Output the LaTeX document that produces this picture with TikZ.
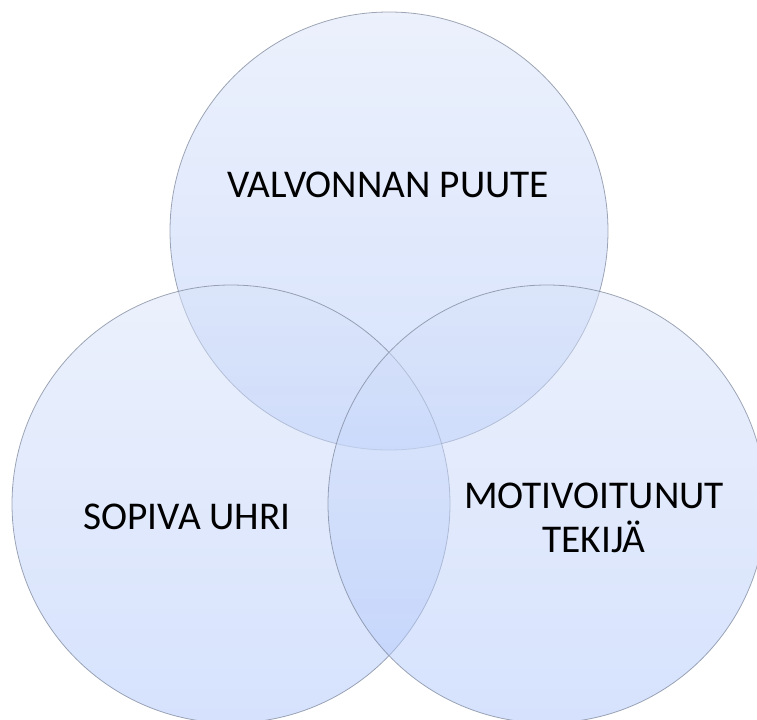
\documentclass[tikz,border=0pt]{standalone}
\usepackage{fontspec}
\setmainfont{Carlito}
\usepackage{tikz}

\definecolor{ringtop}{RGB}{217,227,249}
\definecolor{ringbottom}{RGB}{173,197,251}
\definecolor{ringline}{RGB}{120,130,150}

\begin{document}
\begin{tikzpicture}[x=0.75pt,y=-0.75pt,
    ring/.style={circle,minimum size=328.5pt,inner sep=0pt,
        top color=ringtop,bottom color=ringbottom,fill opacity=0.5,
        draw=ringline,draw opacity=0.7,line width=0.6pt},
    label/.style={font=\fontsize{29.5}{32.5}\selectfont,align=center,text=black}]
    \useasboundingbox (0,0) rectangle (757,720);

    \node[ring] (valvonta) at (389,231) {};
    \node[ring] (uhri) at (231,504) {};
    \node[ring] (tekija) at (547,504) {};

    \node[label,anchor=base] (valvontateksti) at (388,198) {VALVONNAN PUUTE};
    \node[label,anchor=base] (uhriteksti) at (187,529) {SOPIVA UHRI};
    \node[label] (tekijateksti) at (594,518) {MOTIVOITUNUT\\TEKIJÄ};
\end{tikzpicture}
\end{document}
